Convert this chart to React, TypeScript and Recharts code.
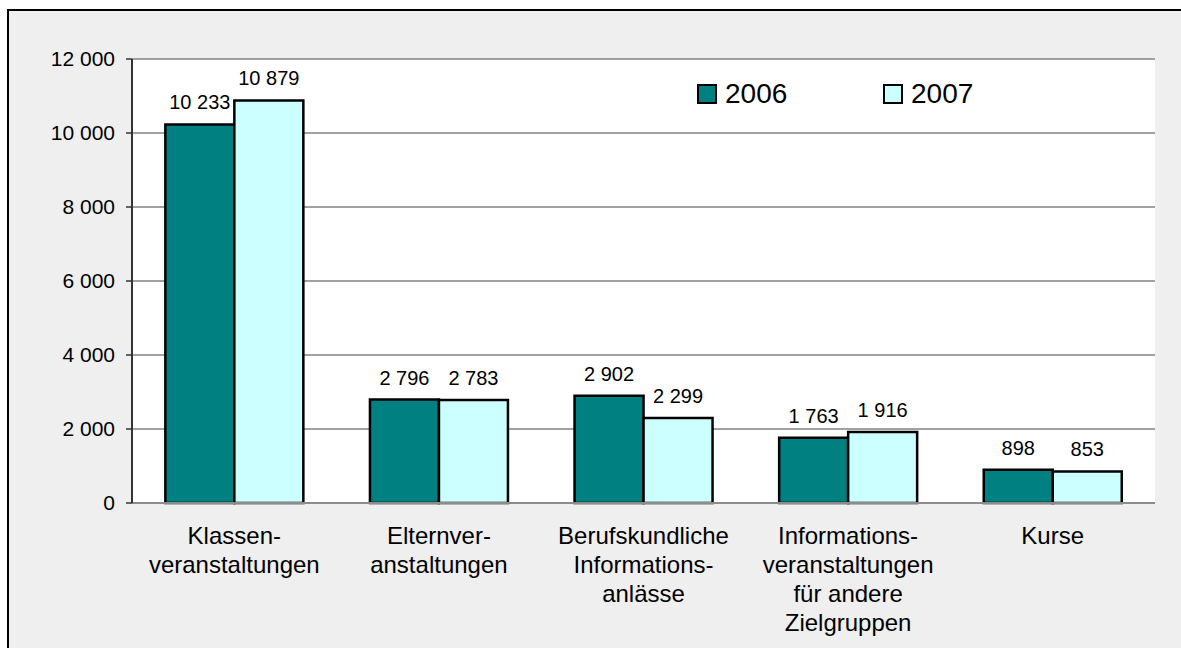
import React from 'react';
import { BarChart, Bar, XAxis, YAxis, CartesianGrid, LabelList, Legend } from 'recharts';

const categories = [
  'Klassen-\nveranstaltungen',
  'Elternver-\nanstaltungen',
  'Berufskundliche\nInformations-\nanlässe',
  'Informations-\nveranstaltungen\nfür andere\nZielgruppen',
  'Kurse',
];
const values2006 = [10233, 2796, 2902, 1763, 898];
const values2007 = [10879, 2783, 2299, 1916, 853];
const yTicks = [0, 2000, 4000, 6000, 8000, 10000, 12000];
const seriesNames = ['2006', '2007'];
const seriesKeys = ['v2006', 'v2007'];
const seriesColors = ['#008080', '#CCFFFF'];

const data = categories.map((c, i) => ({ category: c, v2006: values2006[i], v2007: values2007[i] }));

const FONT = "'Liberation Sans', Arial, Helvetica, sans-serif";
const fmt = (v: any) => String(v).replace(/\B(?=(\d{3})+(?!\d))/g, ' ');

const CategoryTick = (props: any) => {
  const { x, y, payload } = props;
  const lines = String(payload.value).split('\n');
  return (
    <text x={x} y={y} textAnchor="middle" fontSize={24} fill="#000" fontFamily={FONT}>
      {lines.map((l, i) => (
        <tspan key={i} x={x} y={y + 41 + i * 29}>
          {l}
        </tspan>
      ))}
    </text>
  );
};

const LegendContent = () => (
  <div style={{ display: 'flex', fontFamily: FONT, fontSize: 28, color: '#000' }}>
    {seriesNames.map((n, i) => (
      <div key={n} style={{ display: 'flex', alignItems: 'center', width: 186 }}>
        <span
          style={{
            display: 'inline-block',
            width: 16,
            height: 16,
            border: '2px solid #000',
            background: seriesColors[i],
            marginRight: 8,
            boxSizing: 'content-box',
          }}
        />
        <span>{n}</span>
      </div>
    ))}
  </div>
);

export default function App() {
  return (
    <div
      style={{
        position: 'fixed',
        left: 0,
        top: 0,
        width: 1181,
        height: 648,
        overflow: 'hidden',
        background: '#fff',
      }}
    >
      <div
        style={{
          position: 'absolute',
          left: 7,
          top: 9,
          width: 1300,
          height: 800,
          borderLeft: '2px solid #000',
          borderTop: '2px solid #000',
          background: '#efefef',
        }}
      />
      <div style={{ position: 'absolute', left: 0, top: 0 }}>
        <BarChart
          width={1181}
          height={648}
          data={data}
          margin={{ top: 59, right: 26, bottom: 0, left: 0 }}
          barCategoryGap="16.3%"
          barGap={0}
        >
          <CartesianGrid vertical={false} stroke="#444" fill="#fff" />
          <XAxis
            dataKey="category"
            interval={0}
            height={145}
            tickLine={false}
            tickSize={0}
            tickMargin={0}
            tick={<CategoryTick />}
            axisLine={{ stroke: '#8c8c8c', strokeWidth: 2 }}
          />
          <XAxis
            xAxisId="top"
            orientation="top"
            dataKey="category"
            height={0}
            tick={false}
            tickLine={false}
            axisLine={{ stroke: '#8c8c8c', strokeWidth: 3 }}
          />
          <YAxis
            domain={[0, 12000]}
            ticks={yTicks}
            width={132}
            tickSize={6}
            tickMargin={11}
            tickFormatter={fmt}
            tick={{ fontSize: 21, fill: '#000', fontFamily: FONT }}
            axisLine={{ stroke: '#333', strokeWidth: 2 }}
            tickLine={{ stroke: '#333', strokeWidth: 1.5 }}
          />
          <YAxis
            yAxisId="right"
            orientation="right"
            width={0}
            domain={[0, 12000]}
            tick={false}
            tickLine={false}
            axisLine={{ stroke: '#8c8c8c', strokeWidth: 3 }}
          />
          <Legend
            layout="horizontal"
            verticalAlign="middle"
            align="center"
            content={<LegendContent />}
            wrapperStyle={{ left: 697, top: 78, width: 400, height: 32 }}
          />
          {seriesKeys.map((k, i) => (
            <Bar
              key={k}
              dataKey={k}
              name={seriesNames[i]}
              fill={seriesColors[i]}
              stroke="#000"
              strokeWidth={2.5}
              isAnimationActive={false}
            >
              <LabelList
                dataKey={k}
                position="top"
                offset={15}
                formatter={fmt}
                fontSize={20}
                fill="#000"
                fontFamily={FONT}
              />
            </Bar>
          ))}
        </BarChart>
      </div>
    </div>
  );
}
